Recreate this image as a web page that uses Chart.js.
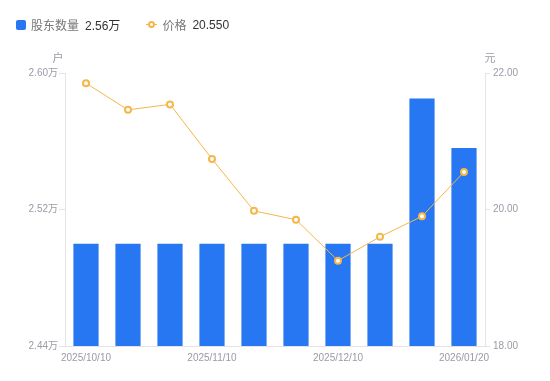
<!DOCTYPE html>
<html>
<head>
<meta charset="utf-8">
<script src="https://cdn.jsdelivr.net/npm/chart.js@4"></script>
<style>
html,body{margin:0;padding:0;background:#fff;}
#wrap{position:relative;width:550px;height:381px;}
#legend{position:absolute;left:16px;top:16px;font-family:"Liberation Sans","Noto Sans CJK SC",sans-serif;font-size:12px;display:flex;align-items:center;white-space:nowrap;}
.item{display:flex;align-items:center;margin-right:26px;}
.sq{width:10px;height:10px;border-radius:2px;background:#2777F2;margin-right:5px;}
.ln{position:relative;width:11px;height:10px;margin-right:5px;}
.ln:before{content:"";position:absolute;left:0;right:0;top:4.5px;height:1px;background:#F5B64A;}
.ln:after{content:"";position:absolute;left:2px;top:1.5px;width:3px;height:3px;border:2px solid #F5B64A;border-radius:50%;background:#fff;}
.nm{color:#777;margin-right:6px;}
.vl{color:#333;}
</style>
</head>
<body>
<div id="wrap">
<canvas id="c" width="550" height="381"></canvas>
<div id="legend"></div>
</div>
<script>
const categories = ["2025/10/10","2025/10/20","2025/10/31","2025/11/10","2025/11/20","2025/11/28","2025/12/10","2025/12/19","2025/12/31","2026/01/20"];
const holders = [2.50,2.50,2.50,2.50,2.50,2.50,2.50,2.50,2.585,2.556];
const prices = [21.85,21.46,21.54,20.74,19.98,19.85,19.25,19.60,19.90,20.55];
const shownLabels = ["2025/10/10","2025/11/10","2025/12/10","2026/01/20"];
const leftTicks = [2.44,2.52,2.60];
const rightTicks = [18,20,22];

const FONT = '"Liberation Sans","Noto Sans CJK SC",sans-serif';
const GRAY = '#9a9aa6';
const AXIS = '#e4e4e8';

document.getElementById('legend').innerHTML =
  '<div class="item"><span class="sq"></span><span class="nm">股东数量</span><span class="vl">' + holders[holders.length-1].toFixed(2) + '万</span></div>' +
  '<div class="item"><span class="ln"></span><span class="nm">价格</span><span class="vl">' + prices[prices.length-1].toFixed(3) + '</span></div>';

const unitPlugin = {
  id: 'units',
  afterDraw(chart) {
    const ctx = chart.ctx, a = chart.chartArea;
    ctx.save();
    ctx.font = '11px ' + FONT;
    ctx.fillStyle = GRAY;
    ctx.textBaseline = 'middle';
    ctx.textAlign = 'center';
    ctx.fillText('户', a.left - 7, a.top - 14);
    ctx.fillText('元', a.right + 5, a.top - 14);
    ctx.restore();
  }
};

new Chart(document.getElementById('c'), {
  data: {
    labels: categories,
    datasets: [
      {
        type: 'line', label: '价格', data: prices, yAxisID: 'y1',
        borderColor: '#F5B64A', borderWidth: 1, pointRadius: 3, pointHoverRadius: 3,
        pointBorderWidth: 2, pointBackgroundColor: '#fff', pointBorderColor: '#F5B64A',
        tension: 0, order: 0
      },
      {
        type: 'bar', label: '股东数量', data: holders, yAxisID: 'y',
        backgroundColor: '#2777F2', borderWidth: 0,
        categoryPercentage: 0.6, barPercentage: 1, order: 1
      }
    ]
  },
  options: {
    responsive: false, animation: false,
    layout: { padding: { top: 73, left: 0, right: 0, bottom: 0 } },
    plugins: { legend: { display: false }, tooltip: { enabled: false } },
    scales: {
      x: {
        grid: { display: false, drawTicks: false },
        border: { display: true, color: AXIS },
        ticks: {
          autoSkip: false, maxRotation: 0, color: GRAY, padding: 6,
          font: { size: 10, family: FONT },
          callback: function(v, i) { const l = categories[i]; return shownLabels.includes(l) ? l : ''; }
        },
        afterFit(s) { s.height = 35; }
      },
      y: {
        position: 'left', min: 2.44, max: 2.60,
        afterBuildTicks(s) { s.ticks = leftTicks.map(v => ({ value: v })); },
        grid: { drawOnChartArea: false, drawTicks: true, tickLength: 6, color: AXIS },
        border: { display: true, color: AXIS },
        ticks: { color: GRAY, padding: 1, font: { size: 10, family: FONT }, callback: v => v.toFixed(2) + '万' },
        afterFit(s) { s.width = 65; }
      },
      y1: {
        position: 'right', min: 18, max: 22,
        afterBuildTicks(s) { s.ticks = rightTicks.map(v => ({ value: v })); },
        grid: { drawOnChartArea: false, drawTicks: true, tickLength: 5, color: AXIS },
        border: { display: true, color: AXIS },
        ticks: { color: GRAY, padding: 3, font: { size: 10, family: FONT }, callback: v => v.toFixed(2) },
        afterFit(s) { s.width = 65; }
      }
    }
  },
  plugins: [unitPlugin]
});
</script>
</body>
</html>
